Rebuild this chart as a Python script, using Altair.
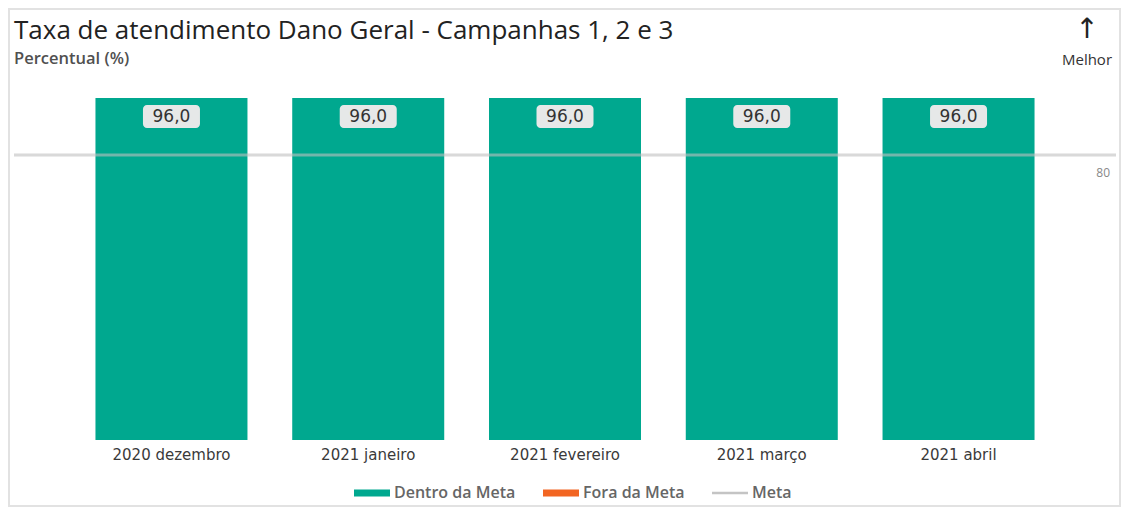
import altair as alt
import pandas as pd

# ---- data ----
months = ["2020 dezembro", "2021 janeiro", "2021 fevereiro", "2021 março", "2021 abril"]
values = [96.0, 96.0, 96.0, 96.0, 96.0]
meta_value = 80
legend_items = ["Dentro da Meta", "Fora da Meta", "Meta"]
legend_colors = ["#00a88f", "#f26522", "#c4c4c4"]
title_text = "Taxa de atendimento Dano Geral - Campanhas 1, 2 e 3"
subtitle_text = "Percentual (%)"

# ---- layout ----
W, H = 1102, 342

df = pd.DataFrame({
    "month": months,
    "value": values,
    "status": ["Dentro da Meta" if v >= meta_value else "Fora da Meta" for v in values],
    "label": [f"{v:.1f}".replace(".", ",") for v in values],
})
meta_df = pd.DataFrame({"meta": [meta_value], "meta_label": [str(meta_value)]})
legend_df = pd.DataFrame({"status": legend_items})
one = pd.DataFrame({"k": [0]})

x_enc = alt.X(
    "month:N", sort=months, title=None,
    scale=alt.Scale(paddingInner=0.2275, paddingOuter=0.414),
    axis=alt.Axis(labelAngle=0, domain=False, ticks=False, labelFont="DejaVu Sans",
                  labelFontSize=15, labelColor="#3a3a3a", labelPadding=7),
)
y_scale = alt.Scale(domain=[0, 96], nice=False, zero=True)
color_scale = alt.Scale(domain=legend_items, range=legend_colors)
shape_scale = alt.Scale(
    domain=legend_items,
    range=["M-1,-0.2H1V0.2H-1Z", "M-1,-0.2H1V0.2H-1Z", "M-1,-0.07H1V0.07H-1Z"],
)
leg = alt.Legend(orient="none", legendX=340, legendY=377, direction="horizontal", title=None)

frame = alt.Chart(one).mark_rect(fill="transparent", stroke="#e2e2e2", strokeWidth=2).encode(
    x=alt.value(-5), x2=alt.value(W + 4), y=alt.value(-89), y2=alt.value(H + 66)
)

# legend source (points hidden behind the middle bar)
legend_layer = alt.Chart(legend_df).mark_point(filled=True, opacity=1).encode(
    x=alt.value(W / 2), y=alt.value(H / 2),
    color=alt.Color("status:N", scale=color_scale, title=None, legend=leg),
    shape=alt.Shape("status:N", scale=shape_scale, title=None, legend=leg),
)

bars = alt.Chart(df).mark_bar().encode(
    x=x_enc,
    y=alt.Y("value:Q", scale=y_scale, axis=None),
    color=alt.Color("status:N", scale=color_scale, title=None, legend=leg),
)

meta_rule = alt.Chart(meta_df).mark_rule(color="#c0c0c0", strokeWidth=3, opacity=0.6).encode(
    y=alt.Y("meta:Q", scale=y_scale)
)

meta_text = alt.Chart(meta_df).mark_text(
    align="right", baseline="middle", dy=18, font="Open Sans", fontSize=12, color="#888888"
).encode(x=alt.value(W - 6), y=alt.Y("meta:Q", scale=y_scale), text="meta_label:N")

boxes = alt.Chart(df).mark_bar(
    size=57, cornerRadius=4, color="#e6e8e8", yOffset=7, y2Offset=30
).encode(x=x_enc, y=alt.Y("value:Q", scale=y_scale), y2=alt.Y2("value"))

labels = alt.Chart(df).mark_text(
    baseline="middle", dy=18.5, font="DejaVu Sans", fontSize=17, color="#333333"
).encode(x=x_enc, y=alt.Y("value:Q", scale=y_scale), text="label:N")

title = alt.Chart(one).mark_text(
    text=title_text, font="Open Sans", fontSize=26, color="#222222",
    align="left", baseline="alphabetic"
).encode(x=alt.value(0), y=alt.value(-59))

subtitle = alt.Chart(one).mark_text(
    text=subtitle_text, font="Open Sans", fontSize=16.5, fontWeight=600, color="#505050",
    align="left", baseline="alphabetic"
).encode(x=alt.value(0), y=alt.value(-34))

arrow = alt.Chart(one).mark_text(
    text="↑", font="DejaVu Sans", fontSize=28, color="#222222",
    align="center", baseline="middle"
).encode(x=alt.value(1073), y=alt.value(-68))

melhor = alt.Chart(one).mark_text(
    text="Melhor", font="Open Sans", fontSize=15, color="#333333",
    align="center", baseline="middle"
).encode(x=alt.value(1073), y=alt.value(-38))

chart = alt.layer(
    frame, legend_layer, bars, meta_rule, meta_text, boxes, labels,
    title, subtitle, arrow, melhor
).properties(
    width=W, height=H,
    autosize=alt.AutoSizeParams(type="none"),
    padding={"left": 6, "top": 90, "right": 5, "bottom": 68},
).configure_view(stroke=None).configure_legend(
    symbolSize=1296, symbolStrokeWidth=0, labelFont="Open Sans", labelFontSize=16,
    labelFontWeight=600, labelColor="#666666", labelOffset=4, columnPadding=27,
)

chart.save("out.html", embed_options={"renderer": "svg", "actions": False})
